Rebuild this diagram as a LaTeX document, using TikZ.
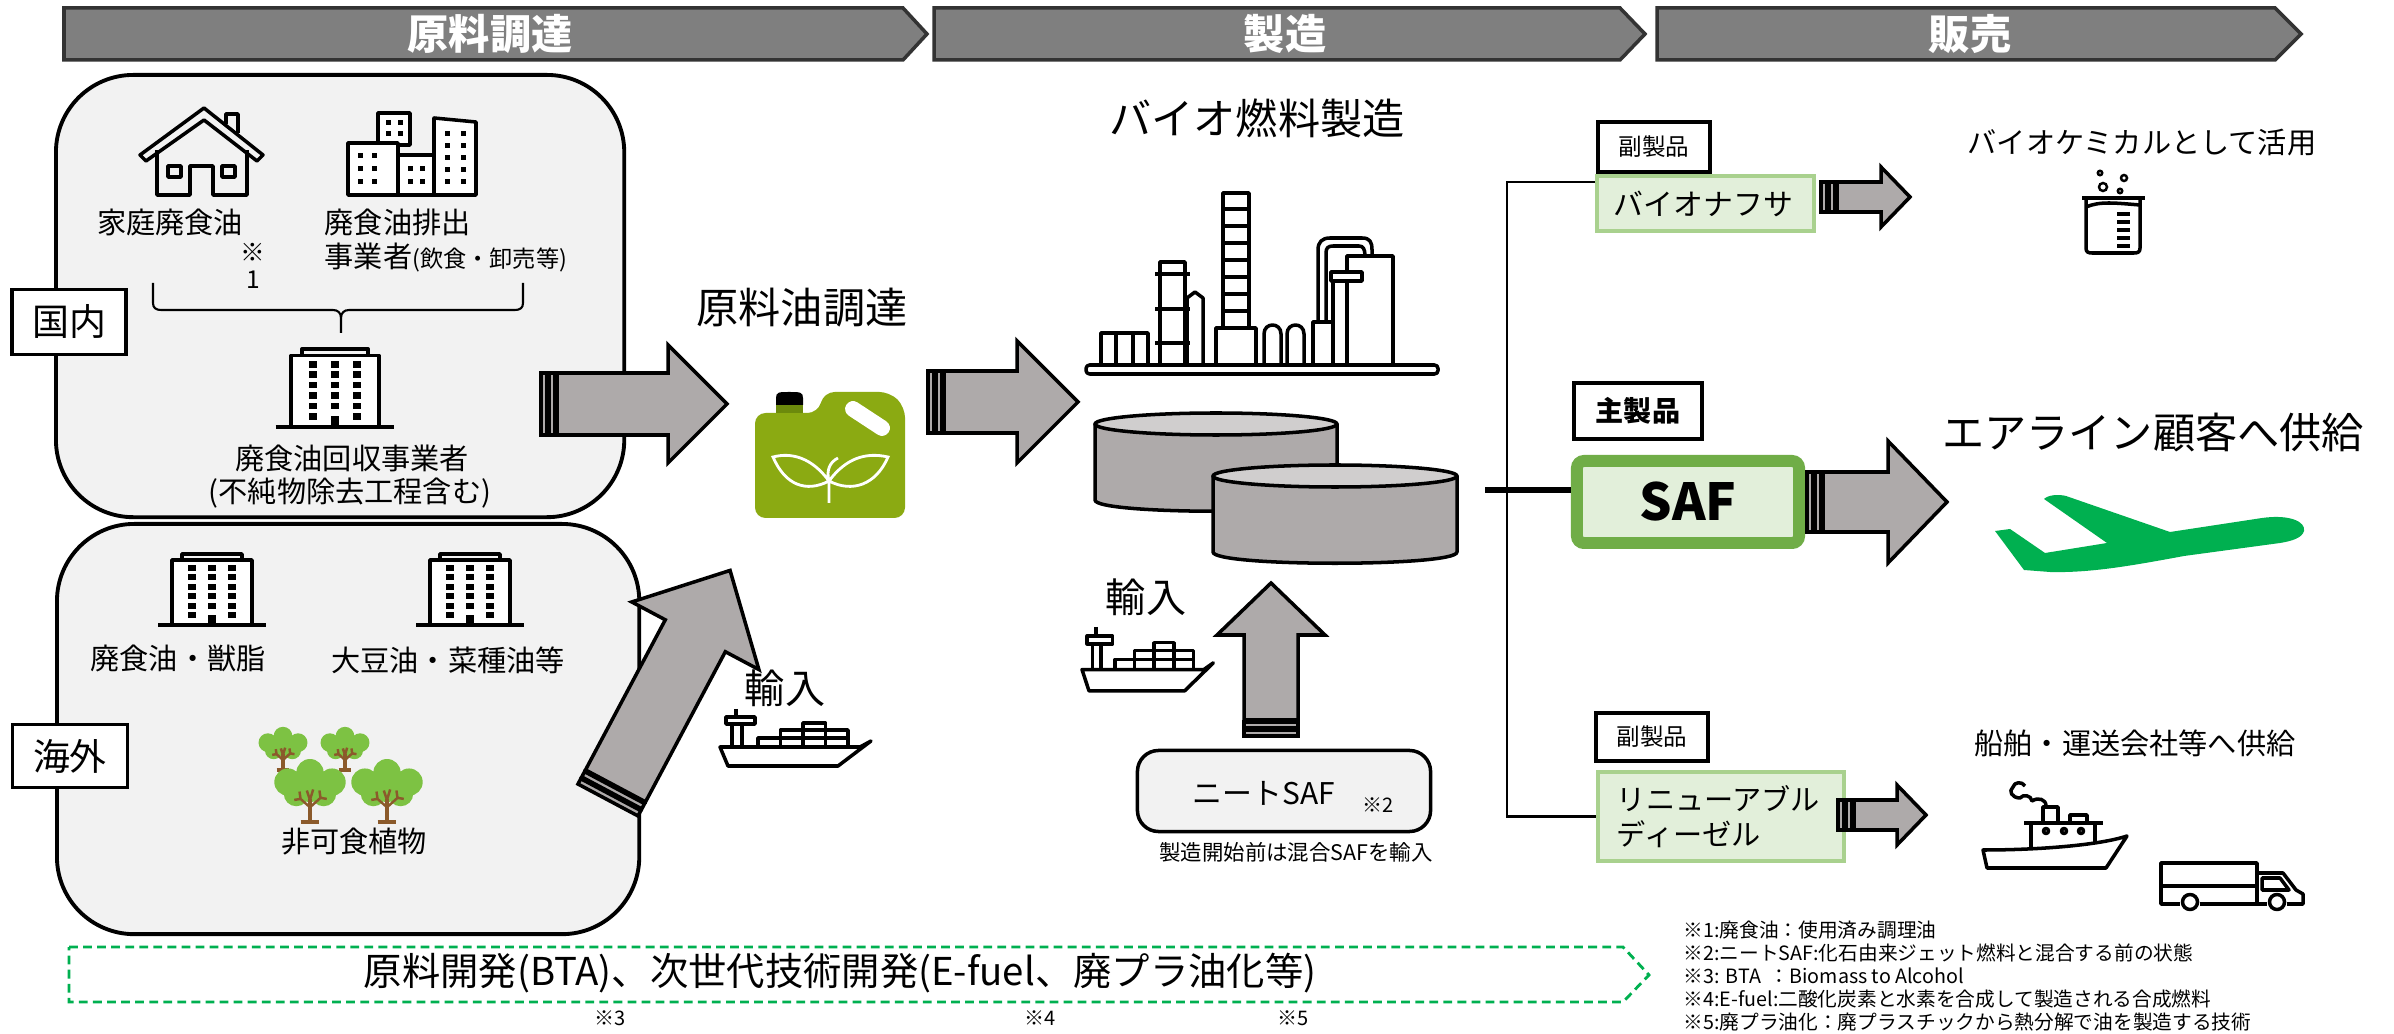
\documentclass[tikz,border=0pt]{standalone}
\usepackage{fontspec}
\setmainfont{Noto Sans CJK JP}
\usetikzlibrary{calc}

\definecolor{hdrgray}{HTML}{7F7F7F}
\definecolor{panelgray}{HTML}{F2F2F2}
\definecolor{arrowgray}{HTML}{AEAAAA}
\definecolor{tanktop}{HTML}{D0CECE}
\definecolor{oilgreen}{HTML}{8BAA12}
\definecolor{oildark}{HTML}{6C8A0C}
\definecolor{palegreen}{HTML}{E2EFDA}
\definecolor{leafgreen}{HTML}{70AD47}
\definecolor{softgreen}{HTML}{A9D18E}
\definecolor{jetgreen}{HTML}{00B050}
\definecolor{treegreen}{HTML}{7DC243}
\definecolor{trunkbrown}{HTML}{8B5A2B}

\newcommand{\stripearrow}[6]{%
  \begin{scope}[shift={#1},rotate=#2]
    \draw[blockarrow] (0,-#4) rectangle (6,#4);
    \draw[blockarrow] (8,-#4) rectangle (14,#4);
    \draw[blockarrow] (16,-#4) -- ({#3-#6},-#4) -- ({#3-#6},-#5) -- (#3,0)
      -- ({#3-#6},#5) -- ({#3-#6},#4) -- (16,#4) -- cycle;
  \end{scope}}

\newcommand{\officeicon}[2]{%
  \begin{scope}[shift={#1},scale=#2]
    \draw[icon,line width=1.3pt] (-54,0) -- (54,0);
    \draw[icon,fill=white] (-40,0) rectangle (40,-65);
    \draw[icon] (-30,-65) rectangle (30,-71);
    \foreach \c in {-20,20}
      \foreach \r in {0,...,5}
        \fill ({\c-4},{-60+\r*9.5}) rectangle ({\c+4},{-54+\r*9.5});
    \foreach \r in {0,...,4}
      \fill (-4,{-60+\r*9.5}) rectangle (4,{-54+\r*9.5});
    \fill (-4,-10) rectangle (4,0);
  \end{scope}}

\newcommand{\treeicon}[2]{%
  \begin{scope}[shift={#1},scale=#2]
    \draw[trunkbrown,line width=1.2pt] (-9,0) -- (9,0);
    \fill[treegreen] (0,-47) circle (13) (-21,-38) circle (13) (21,-38) circle (13)
      (-13,-27) circle (12) (13,-27) circle (12) (0,-34) circle (15);
    \draw[trunkbrown,line width=1.4pt] (0,0) -- (0,-22);
    \draw[trunkbrown,line width=0.7pt] (0,-14) -- (-9,-22) -- (-15,-21) (-9,-22) -- (-10,-29)
      (0,-14) -- (10,-23) -- (16,-22) (10,-23) -- (9,-30) (0,-21) -- (-3,-30) (0,-21) -- (3,-31);
  \end{scope}}

\newcommand{\cargoship}[3]{%
  \begin{scope}[shift={#1},xscale=#2,yscale=#3]
    \draw[icon] (16,0) -- (16,8);
    \draw[icon] (6,8) rectangle (35,15);
    \draw[icon] (12,15) -- (12,38) (22,15) -- (22,38);
    \foreach \i in {0,...,3} \draw[icon] ({38+\i*22.5},29) rectangle ({60.5+\i*22.5},38);
    \foreach \i in {1,...,3} \draw[icon] ({38+\i*22.5},21) rectangle ({60.5+\i*22.5},29);
    \draw[icon] (83,14) rectangle (105.5,21);
    \draw[icon,fill=white] (0,38) -- (140,38) -- (151,32) -- (118,57) -- (8,57) -- cycle;
  \end{scope}}

\begin{document}
\begin{tikzpicture}[x=0.01cm,y=-0.01cm]

\tikzstyle{icon}=[line width=1pt, line join=round]
\tikzstyle{blockarrow}=[fill=arrowgray, draw=black, line width=1pt]
\tikzstyle{hdr}=[fill=hdrgray, draw=black!80, line width=1pt]
\tikzstyle{hdrtext}=[text=white, font=\fontsize{11.7}{14}\selectfont\bfseries, inner sep=0pt]
\tikzstyle{panel}=[fill=panelgray, draw=black, line width=1.1pt, rounded corners=22pt, anchor=north west]
\tikzstyle{tagbox}=[fill=white, draw=black, line width=0.9pt, inner sep=0pt]
\tikzstyle{prodbox}=[fill=palegreen, draw=softgreen, line width=1pt, align=left, inner ysep=0pt]
\tikzstyle{txtL}=[font=\fontsize{12}{14}\selectfont, inner sep=0pt]
\tikzstyle{txtM}=[font=\fontsize{8.3}{10}\selectfont, inner sep=0pt]
\tikzstyle{txtS}=[font=\fontsize{6.7}{8}\selectfont, inner sep=0pt]
\tikzstyle{notemark}=[font=\fontsize{5.7}{7}\selectfont, inner sep=0pt]
\tikzstyle{footnote}=[font=\fontsize{5.6}{6.5}\selectfont, inner sep=0pt, anchor=west]
\tikzstyle{link}=[line width=0.6pt]

\fill[white] (0,0) rectangle (2394,1034);
\useasboundingbox (0,0) rectangle (2394,1034);

% phase headers
\draw[hdr] (64,8) -- (903,8) -- (927,34) -- (903,60) -- (64,60) -- cycle;
\draw[hdr] (934,8) -- (1620,8) -- (1645,34) -- (1620,60) -- (934,60) -- cycle;
\draw[hdr] (1657,8) -- (2275,8) -- (2301,34) -- (2275,60) -- (1657,60) -- cycle;
\node[hdrtext] (hdrsrc) at (490,34) {原料調達};
\node[hdrtext] (hdrmfg) at (1285,34) {製造};
\node[hdrtext] (hdrsale) at (1970,34) {販売};

% feedstock panels
\node[panel, minimum width=5.68cm, minimum height=4.42cm] (domestic) at (54,73) {};
\node[panel, minimum width=5.82cm, minimum height=4.10cm] (overseas) at (55,522) {};
\node[tagbox, minimum width=1.14cm, minimum height=0.65cm, font=\fontsize{10.5}{12}\selectfont] (lbldom) at (69,322) {国内};
\node[tagbox, minimum width=1.15cm, minimum height=0.63cm, font=\fontsize{10.5}{12}\selectfont] (lblovs) at (70,756) {海外};

% house
\draw[icon] (140,155) -- (204,108) -- (263,155) -- (257,161) -- (204,120) -- (146,161) -- cycle;
\draw[icon] (226,124) -- (226,114) -- (238,114) -- (238,133);
\draw[icon] (157,150) -- (157,195) -- (190,195) -- (190,166) -- (213,166) -- (213,195) -- (247,195) -- (247,150);
\draw[icon] (168,166) rectangle (181,177) (222,166) rectangle (235,177);

% shops
\draw[icon,fill=white] (378,113) rectangle (410,145);
\draw[icon,fill=white] (348,143) rectangle (398,195);
\draw[icon,fill=white] (398,155) rectangle (434,195);
\draw[icon,fill=white] (434,118) -- (476,122) -- (476,195) -- (434,195) -- cycle;
\foreach \x in {386,398} \foreach \y in {120,131} \fill (\x,\y) rectangle (\x+5,\y+5);
\foreach \x in {358,372} \foreach \y in {153,166,179} \fill (\x,\y) rectangle (\x+5,\y+5);
\foreach \x in {408,420} \foreach \y in {166,179} \fill (\x,\y) rectangle (\x+5,\y+5);
\foreach \x in {445,461} \foreach \y in {131,143,155,167,179} \fill (\x,\y) rectangle (\x+5,\y+5);

\node[txtM] (homeoil) at (170,222) {家庭廃食油};
\node[font=\fontsize{7}{8}\selectfont, inner sep=0pt] (homemark) at (253,252) {※};
\node[font=\fontsize{7}{8}\selectfont, inner sep=0pt] (homenum) at (253,280) {1};
\node[txtM, anchor=west] (shopoil) at (324,222) {廃食油排出};
\node[txtM, anchor=west] (shopkind) at (324,258) {事業者{\fontsize{6.6}{8}\selectfont(飲食・卸売等)}};

\draw[link] (153,283) -- (153,303) .. controls (153,308) and (156,310) .. (161,310) -- (333,310)
  .. controls (338,310) and (341,313) .. (341,318) -- (341,333);
\draw[link] (523,283) -- (523,303) .. controls (523,308) and (520,310) .. (515,310) -- (349,310)
  .. controls (344,310) and (341,313) .. (341,318);

\officeicon{(335,427)}{1.1}
\node[txtM] (collector) at (352,458) {廃食油回収事業者};
\node[txtM] (collectnote) at (350,493) {(不純物除去工程含む)};

\officeicon{(212,625)}{1}
\officeicon{(470,625)}{1}
\node[txtM] (tallow) at (178,658) {廃食油・獣脂};
\node[txtM] (seedoil) at (448,660) {大豆油・菜種油等};
\treeicon{(283,770)}{0.72}
\treeicon{(345,770)}{0.72}
\treeicon{(310,822)}{1.05}
\treeicon{(387,822)}{1.05}
\node[txtM] (inedible) at (354,842) {非可食植物};

\stripearrow{(541,404)}{0}{186}{31}{59}{59}
\stripearrow{(608,800)}{62}{260}{34}{72}{74}

% oil can
\node[txtL] (oilbuy) at (802,308) {原料油調達};
\fill[oilgreen, rounded corners=3pt] (755,413) -- (818,413) -- (824,392) -- (890,392) -- (905,407) -- (905,518) -- (755,518) -- cycle;
\fill[oildark] (776,402) rectangle (803,413);
\fill[black] (776,405) -- (776,398) .. controls (776,392) and (779,392) .. (789,392) .. controls (800,392) and (803,392) .. (803,398) -- (803,405) -- cycle;
\draw[white, line width=4.5pt, line cap=round] (853,409) -- (882,428);
\draw[white, line width=0.8pt] (829,503) -- (829,481)
  (829,481) .. controls (812,458) and (792,452) .. (773,457) .. controls (785,485) and (806,493) .. (829,481)
  (829,481) .. controls (846,458) and (866,452) .. (888,457) .. controls (876,485) and (852,493) .. (829,481)
  (829,481) .. controls (826,470) and (830,462) .. (838,458);

\node[font=\fontsize{11.4}{13}\selectfont, inner sep=0pt] (import1) at (785,688) {輸入};
\cargoship{(720,709)}{1}{1}

\stripearrow{(928,402)}{0}{150}{31}{61}{61}

% refinery
\node[txtL] (biofuel) at (1257,118) {バイオ燃料製造};
\draw[icon,fill=white,rounded corners=1pt] (1086,365) rectangle (1438,374);
\draw[icon] (1101,365) -- (1101,333) -- (1148,333) -- (1148,365) (1116,333) -- (1116,365) (1133,333) -- (1133,365);
\draw[icon] (1160,365) -- (1160,262) -- (1185,262) -- (1185,365);
\draw[icon] (1155,274) -- (1190,274) (1155,309) -- (1190,309) (1155,343) -- (1190,343);
\draw[icon] (1187,365) -- (1187,298) -- (1195,292) -- (1203,298) -- (1203,365);
\draw[icon] (1216,365) -- (1216,328) -- (1256,328) -- (1256,365);
\draw[icon] (1223,328) -- (1223,193) -- (1249,193) -- (1249,328);
\foreach \y in {209,226,...,311} \draw[icon] (1223,\y) -- (1249,\y);
\draw[icon] (1264,365) -- (1264,334) .. controls (1264,322) and (1281,322) .. (1281,334) -- (1281,365);
\draw[icon] (1287,365) -- (1287,334) .. controls (1287,322) and (1304,322) .. (1304,334) -- (1304,365);
\draw[icon] (1313,365) -- (1313,322) -- (1333,322);
\draw[icon] (1318,322) -- (1318,250) .. controls (1318,242) and (1322,238) .. (1330,238) -- (1362,238)
  .. controls (1370,238) and (1372,242) .. (1372,250) -- (1372,256);
\draw[icon] (1326,322) -- (1326,253) .. controls (1326,248) and (1328,246) .. (1333,246) -- (1359,246)
  .. controls (1363,246) and (1365,249) .. (1365,256);
\draw[icon] (1347,365) -- (1347,256) -- (1393,256) -- (1393,365);
\draw[icon] (1333,365) -- (1333,281);
\draw[icon,fill=white] (1331,272) rectangle (1362,281);

% storage tanks
\filldraw[icon, fill=arrowgray] (1095,424) -- (1095,500) .. controls (1095,515) and (1337,515) .. (1337,500) -- (1337,424) -- cycle;
\filldraw[icon, fill=tanktop] (1216,424) ellipse [x radius=121, y radius=11];
\filldraw[icon, fill=arrowgray] (1213,476) -- (1213,552) .. controls (1213,567) and (1457,567) .. (1457,552) -- (1457,476) -- cycle;
\filldraw[icon, fill=tanktop] (1335,476) ellipse [x radius=122, y radius=11];

\node[font=\fontsize{11.4}{13}\selectfont, inner sep=0pt] (import2) at (1146,597) {輸入};
\cargoship{(1082,627)}{0.87}{1.12}
\stripearrow{(1271,736)}{90}{153}{27}{54}{52}
\node[fill=panelgray, draw=black, line width=1pt, rounded corners=6pt, minimum width=2.93cm, minimum height=0.81cm] (neat) at (1284,791) {};
\node[font=\fontsize{8.5}{10}\selectfont, inner sep=0pt] (neatname) at (1264,793) {ニートSAF};
\node[notemark] (neatmark) at (1378,805) {※2};
\node[font=\fontsize{6.1}{7}\selectfont, inner sep=0pt] (neatnote) at (1296,852) {製造開始前は混合SAFを輸入};

% products
\coordinate (tankout) at (1485,490);
\coordinate (split) at (1507,490);
\node[tagbox, minimum width=1.12cm, minimum height=0.50cm, txtS] (byprod1) at (1654,147) {副製品};
\node[prodbox, font=\fontsize{8.5}{10}\selectfont, text width=1.83cm, inner xsep=0.17cm, minimum height=0.55cm] (naphtha) at (1705.5,203.5) {バイオナフサ};
\node[tagbox, minimum width=1.28cm, minimum height=0.56cm, font=\fontsize{8}{10}\selectfont\bfseries] (mainprod) at (1638,411) {主製品};
\node[fill=palegreen, draw=leafgreen, line width=3.4pt, rounded corners=2pt, minimum width=2.22cm, minimum height=0.82cm, inner sep=0pt, font=\fontsize{14.5}{16}\selectfont\bfseries] (saf) at (1688,502) {SAF};
\node[tagbox, minimum width=1.12cm, minimum height=0.48cm, txtS] (byprod2) at (1652,737) {副製品};
\node[prodbox, font=\fontsize{8.3}{10}\selectfont, text width=2.08cm, inner xsep=0.19cm, minimum height=0.89cm] (rd) at (1721,816.5) {リニューアブル\\ディーゼル};

\draw[link] ([yshift=-2.3pt]naphtha.north west) -| (split) |- (rd.west);
\draw[line width=1.5pt] (tankout) -- (tankout -| saf.west);

\stripearrow{(1821,197)}{0}{89}{15}{30}{29}
\stripearrow{(1807,502)}{0}{140}{30}{61}{59}
\stripearrow{(1838,815)}{0}{88}{15}{30}{29}

% chemicals
\node[txtM] (chem) at (2142,143) {バイオケミカルとして活用};
\draw[icon] (2082,198) -- (2145,198);
\draw[icon] (2086,198) -- (2086,248) .. controls (2086,252) and (2088,253) .. (2092,253) -- (2134,253)
  .. controls (2138,253) and (2140,252) .. (2140,248) -- (2140,198);
\draw[icon] (2086,207) .. controls (2100,201) and (2115,203) .. (2140,205);
\foreach \y in {214,222,230,238,246} \draw[icon] (2117,\y) -- (2130,\y);
\draw[line width=0.7pt] (2100,173) circle (2.2) (2124,178) circle (3) (2103,187) circle (4) (2120,191) circle (2.2);

% airline
\node[txtL] (airline) at (2153,433) {エアライン顧客へ供給};
\fill[jetgreen] (1995,531) -- (2010,529) -- (2045,553) -- (2107,543) -- (2044,499)
  .. controls (2048,495) and (2058,494) .. (2066,496) -- (2170,532) -- (2262,518)
  .. controls (2290,514) and (2306,522) .. (2304,531) .. controls (2302,538) and (2292,541) .. (2280,543)
  -- (2184,556) .. controls (2130,566) and (2090,573) .. (2050,572) -- (2024,570) -- cycle;

% shipping and road
\node[txtM] (shipping) at (2135,743) {船舶・運送会社等へ供給};
\draw[icon,fill=white] (1983,850) .. controls (2040,850) and (2100,845) .. (2127,836) -- (2106,868) -- (1987,868) -- cycle;
\draw[icon] (2031,848) -- (2031,823) (2095,823) -- (2095,842);
\draw[icon] (2024,823) -- (2103,823);
\draw[icon] (2043,823) -- (2043,807) -- (2058,807) -- (2058,823) (2070,823) -- (2070,815) -- (2087,815) -- (2087,823);
\draw[icon] (2046,831) circle (2.5) (2064,831) circle (2.5) (2081,831) circle (2.5);
\draw[icon] (2046,806) .. controls (2046,799) and (2038,797) .. (2032,801) .. controls (2031,795) and (2023,794) .. (2020,798)
  .. controls (2012,798) and (2008,791) .. (2013,787) .. controls (2014,782) and (2022,781) .. (2025,786);
\draw[icon] (2161,898) -- (2161,863) -- (2257,863) -- (2257,904) (2161,886) -- (2257,886) (2161,898) -- (2161,904) -- (2180,904) (2200,904) -- (2267,904);
\draw[icon] (2257,873) -- (2283,873) -- (2296,890) -- (2303,894) -- (2303,904) -- (2287,904);
\draw[icon] (2262,878) -- (2280,878) -- (2289,890) -- (2262,890) -- cycle;
\draw[icon,fill=white] (2190,902) circle (7.5) (2277,902) circle (7.5);

% development outlook
\draw[jetgreen, line width=0.8pt, dash pattern=on 2.5pt off 1.5pt] (69,947) -- (1623,947) -- (1649,975) -- (1623,1002) -- (69,1002) -- cycle;
\node[font=\fontsize{10.9}{13}\selectfont, inner sep=0pt] (rnd) at (840,973) {原料開発(BTA)、次世代技術開発(E-fuel、廃プラ油化等)};
\node[notemark] (mark3) at (610,1018) {※3};
\node[notemark] (mark4) at (1040,1018) {※4};
\node[notemark] (mark5) at (1293,1018) {※5};

\node[footnote] (fn1) at (1683,930) {※1:廃食油：使用済み調理油};
\node[footnote] (fn2) at (1683,953) {※2:ニートSAF:化石由来ジェット燃料と混合する前の状態};
\node[footnote] (fn3) at (1683,976) {※3: BTA\ \ ：Biomass to Alcohol};
\node[footnote] (fn4) at (1683,999) {※4:E-fuel:二酸化炭素と水素を合成して製造される合成燃料};
\node[footnote] (fn5) at (1683,1022) {※5:廃プラ油化：廃プラスチックから熱分解で油を製造する技術};

\end{tikzpicture}
\end{document}
